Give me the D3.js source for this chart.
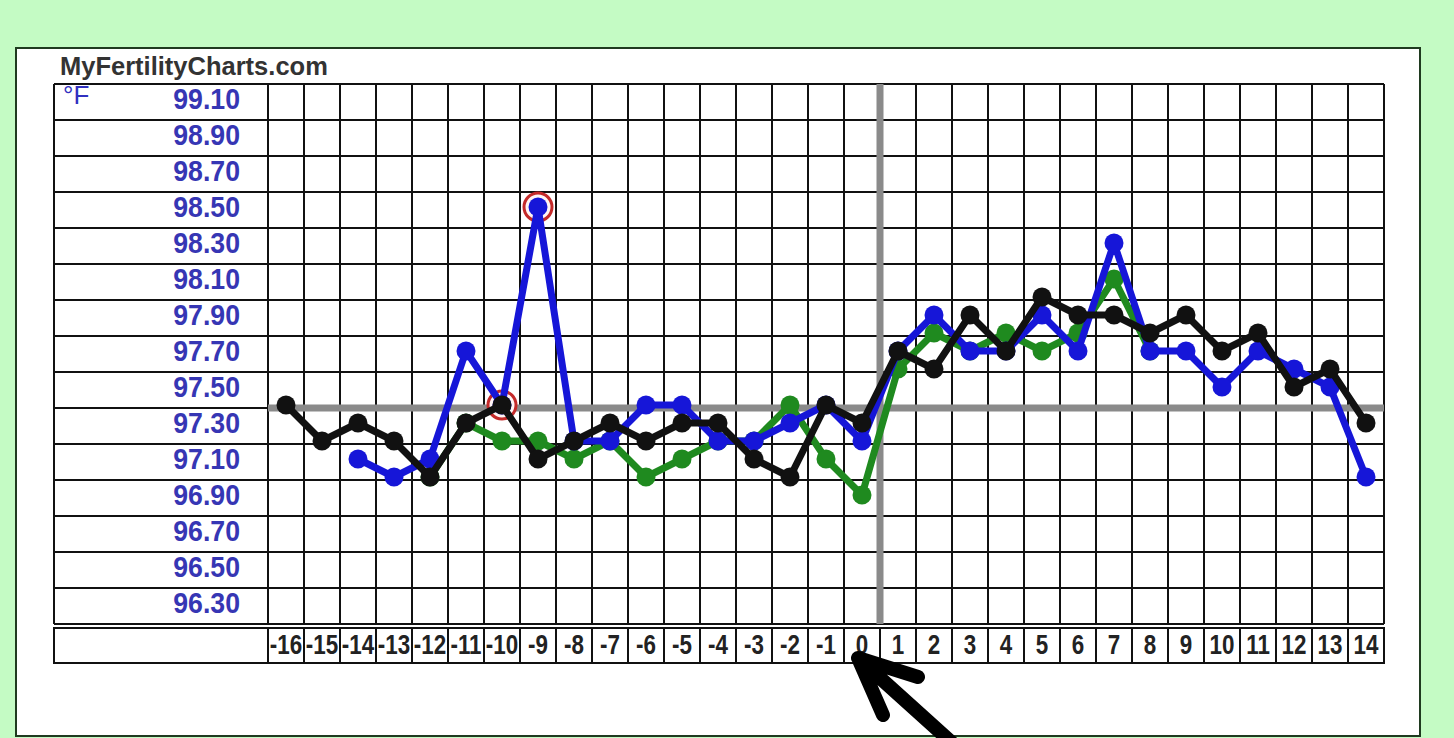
<!DOCTYPE html>
<html>
<head>
<meta charset="utf-8">
<script src="https://cdn.jsdelivr.net/npm/d3@7"></script>
<style>
  html, body { margin: 0; padding: 0; background: #c4fbc4; }
  svg { display: block; }
</style>
</head>
<body>
<svg id="chart" width="1454" height="738"></svg>
<script>
// ---- data ----
const days = [-16,-15,-14,-13,-12,-11,-10,-9,-8,-7,-6,-5,-4,-3,-2,-1,0,1,2,3,4,5,6,7,8,9,10,11,12,13,14];
const dayLabels = ["-16","-15","-14","-13","-12","-11","-10","-9","-8","-7","-6","-5","-4","-3","-2","-1","0","1","2","3","4","5","6","7","8","9","10","11","12","13","14"];
const tempTicks = [99.10,98.90,98.70,98.50,98.30,98.10,97.90,97.70,97.50,97.30,97.10,96.90,96.70,96.50,96.30];
const blackTemps = [97.4,97.2,97.3,97.2,97.0,97.3,97.4,97.1,97.2,97.3,97.2,97.3,97.3,97.1,97.0,97.4,97.3,97.7,97.6,97.9,97.7,98.0,97.9,97.9,97.8,97.9,97.7,97.8,97.5,97.6,97.3];
const blueTemps = [null,null,97.1,97.0,97.1,97.7,97.4,98.5,97.2,97.2,97.4,97.4,97.2,97.2,97.3,97.4,97.2,97.7,97.9,97.7,97.7,97.9,97.7,98.3,97.7,97.7,97.5,97.7,97.6,97.5,97.0];
const greenTemps = [null,null,null,null,97.0,97.3,97.2,97.2,97.1,97.2,97.0,97.1,97.2,97.2,97.4,97.1,96.9,97.6,97.8,97.7,97.8,97.7,97.8,98.1,97.7,null,null,null,null,null,null];
const circledDays = [-10,-9];
const coverline = 97.4;
const ovulationDay = 0;

// ---- layout ----
const svg = d3.select("#chart");
const tblLeft = 54, labelRight = 268, plotRight = 1384, plotTop = 84, plotBottom = 624;
const xRowTop = 628, xRowBottom = 663;

const x = d3.scaleBand().domain(days).range([labelRight, plotRight]).paddingInner(0).paddingOuter(0);
const y = d3.scaleLinear().domain([96.2, 99.2]).range([plotBottom, plotTop]);
const yData = d3.scaleLinear().domain([96.2, 99.2]).range([plotBottom - 3, plotTop - 3]);
const bw = x.bandwidth();
const cx = d => x(d) + bw / 2;
const FONT = "'Liberation Sans', Arial, sans-serif";

// panel
svg.append("rect").attr("x", 16).attr("y", 48).attr("width", 1404).attr("height", 688)
  .attr("fill", "#ffffff").attr("stroke", "#1f3a1f").attr("stroke-width", 2);

svg.append("text").attr("x", 60).attr("y", 75)
  .attr("font-family", FONT).attr("font-weight", "bold")
  .attr("font-size", 25.5).attr("fill", "#333").text("MyFertilityCharts.com");

// grid
const grid = svg.append("g").attr("stroke", "#111").attr("stroke-width", 2);
const rowBounds = d3.range(0, 16).map(i => 96.2 + i * 0.2);
grid.selectAll("line.h").data(rowBounds).join("line")
  .attr("x1", tblLeft).attr("x2", plotRight)
  .attr("y1", d => y(d)).attr("y2", d => y(d));
grid.selectAll("line.v").data(days.concat(["end"])).join("line")
  .attr("x1", d => d === "end" ? plotRight : x(d)).attr("x2", d => d === "end" ? plotRight : x(d))
  .attr("y1", plotTop).attr("y2", plotBottom);
grid.append("line").attr("x1", tblLeft).attr("x2", tblLeft).attr("y1", plotTop).attr("y2", plotBottom);

// x label row
const xr = svg.append("g").attr("stroke", "#111").attr("stroke-width", 2);
xr.append("rect").attr("x", tblLeft).attr("y", xRowTop).attr("width", plotRight - tblLeft).attr("height", xRowBottom - xRowTop).attr("fill", "none");
xr.selectAll("line").data(days).join("line")
  .attr("x1", d => x(d)).attr("x2", d => x(d)).attr("y1", xRowTop).attr("y2", xRowBottom);
svg.append("g").selectAll("text").data(days).join("text")
  .attr("transform", d => `translate(${cx(d)},${xRowBottom - 9}) scale(0.8,1)`)
  .attr("text-anchor", "middle")
  .attr("font-family", FONT)
  .attr("font-weight", "bold").attr("font-size", 28).attr("fill", "#222")
  .text((d, i) => dayLabels[i]);

// y labels
svg.append("g").selectAll("text").data(tempTicks).join("text")
  .attr("transform", d => `translate(240,${y(d) + 7}) scale(0.92,1)`)
  .attr("text-anchor", "end")
  .attr("font-family", FONT)
  .attr("font-weight", "bold").attr("font-size", 29).attr("fill", "#3636b4")
  .text(d => d.toFixed(2));
svg.append("text").attr("x", 63).attr("y", 104)
  .attr("font-family", FONT)
  .attr("font-size", 26).attr("fill", "#3030c0").text("°F");

// cover line and ovulation line
svg.append("line").attr("x1", labelRight).attr("x2", plotRight)
  .attr("y1", y(coverline)).attr("y2", y(coverline))
  .attr("stroke", "#8a8a8a").attr("stroke-width", 7);
svg.append("line").attr("x1", x(ovulationDay) + bw).attr("x2", x(ovulationDay) + bw)
  .attr("y1", plotTop).attr("y2", plotBottom)
  .attr("stroke", "#8a8a8a").attr("stroke-width", 7);

// series
const line = d3.line().defined(d => d.v != null).x(d => cx(d.d)).y(d => yData(d.v));
function drawSeries(vals, color) {
  const pts = days.map((d, i) => ({d, v: vals[i]}));
  const g = svg.append("g");
  g.append("path").datum(pts).attr("d", line).attr("fill", "none")
    .attr("stroke", color).attr("stroke-width", 7).attr("stroke-linejoin", "round");
  g.selectAll("circle").data(pts.filter(p => p.v != null)).join("circle")
    .attr("cx", p => cx(p.d)).attr("cy", p => yData(p.v)).attr("r", 9.5).attr("fill", color);
}
drawSeries(greenTemps, "#1f8a1f");
// circled days (rings around blue points)
svg.append("g").selectAll("circle").data(circledDays).join("circle")
  .attr("cx", d => cx(d)).attr("cy", d => yData(blueTemps[days.indexOf(d)]))
  .attr("r", 14).attr("fill", "#fff4f4").attr("stroke", "#c42a2a").attr("stroke-width", 3);
drawSeries(blueTemps, "#1616d8");
drawSeries(blackTemps, "#111111");

// annotation arrow
svg.append("path")
  .attr("d", "M918,677 L858,658 L883,715 M858,658 L960,750")
  .attr("fill", "none").attr("stroke", "#000").attr("stroke-width", 14)
  .attr("stroke-linecap", "round").attr("stroke-linejoin", "round");
</script>
</body>
</html>
